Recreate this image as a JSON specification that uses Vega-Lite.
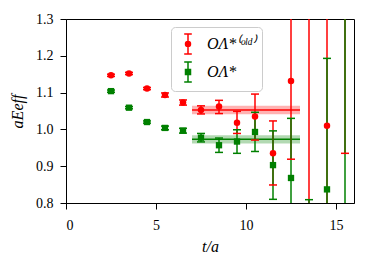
{
  "$schema": "https://vega.github.io/schema/vega-lite/v6.json",
  "width": 288,
  "height": 184,
  "autosize": {"type": "none"},
  "padding": {"left": 66, "top": 19, "right": 19, "bottom": 64},
  "background": "white",
  "config": {
    "view": {"stroke": "black", "strokeWidth": 1},
    "axis": {
      "grid": false,
      "domainColor": "black",
      "domainWidth": 1,
      "tickColor": "black",
      "tickSize": 6,
      "tickWidth": 1,
      "labelOverlap": false,
      "labelFont": "Liberation Serif",
      "labelFontSize": 14,
      "labelColor": "black",
      "titleFont": "Liberation Serif",
      "titleFontSize": 16,
      "titleFontStyle": "italic",
      "titleFontWeight": "normal",
      "titleColor": "black"
    },
    "legend": {
      "title": null,
      "orient": "none",
      "legendX": 105,
      "legendY": 8,
      "padding": 6,
      "strokeColor": "#cccccc",
      "fillColor": "white",
      "cornerRadius": 4,
      "symbolSize": 400,
      "symbolStrokeWidth": 1.5,
      "symbolOpacity": 1,
      "rowPadding": 2,
      "labelOffset": 8,
      "labelFont": "Liberation Serif",
      "labelFontSize": 16,
      "labelFontStyle": "italic",
      "labelColor": "black"
    }
  },
  "datasets": {
    "pts": [
      {"t": 2.5, "y": 1.147, "lo": 1.144, "hi": 1.150, "s": "old"},
      {"t": 3.5, "y": 1.152, "lo": 1.149, "hi": 1.155, "s": "old"},
      {"t": 4.5, "y": 1.111, "lo": 1.108, "hi": 1.114, "s": "old"},
      {"t": 5.5, "y": 1.0935, "lo": 1.088, "hi": 1.099, "s": "old"},
      {"t": 6.5, "y": 1.073, "lo": 1.066, "hi": 1.080, "s": "old"},
      {"t": 7.5, "y": 1.053, "lo": 1.042, "hi": 1.064, "s": "old"},
      {"t": 8.5, "y": 1.062, "lo": 1.043, "hi": 1.079, "s": "old"},
      {"t": 9.5, "y": 1.018, "lo": 0.989, "hi": 1.049, "s": "old"},
      {"t": 10.5, "y": 1.035, "lo": 0.971, "hi": 1.096, "s": "old"},
      {"t": 11.5, "y": 0.935, "lo": 0.849, "hi": 1.023, "s": "old"},
      {"t": 12.5, "y": 1.1315, "lo": 0.919, "hi": 1.344, "s": "old"},
      {"t": 13.5, "y": 1.55, "lo": 0.70, "hi": 2.40, "s": "old"},
      {"t": 14.5, "y": 1.010, "lo": 0.66, "hi": 1.36, "s": "old"},
      {"t": 15.5, "y": 1.50, "lo": 0.935, "hi": 2.065, "s": "old"},
      {"t": 2.5, "y": 1.104, "lo": 1.101, "hi": 1.107, "s": "new"},
      {"t": 3.5, "y": 1.059, "lo": 1.056, "hi": 1.062, "s": "new"},
      {"t": 4.5, "y": 1.020, "lo": 1.017, "hi": 1.023, "s": "new"},
      {"t": 5.5, "y": 1.004, "lo": 0.999, "hi": 1.009, "s": "new"},
      {"t": 6.5, "y": 0.9965, "lo": 0.990, "hi": 1.003, "s": "new"},
      {"t": 7.5, "y": 0.9775, "lo": 0.966, "hi": 0.989, "s": "new"},
      {"t": 8.5, "y": 0.957, "lo": 0.9375, "hi": 0.9765, "s": "new"},
      {"t": 9.5, "y": 0.967, "lo": 0.935, "hi": 0.999, "s": "new"},
      {"t": 10.5, "y": 0.993, "lo": 0.940, "hi": 1.0465, "s": "new"},
      {"t": 11.5, "y": 0.903, "lo": 0.810, "hi": 0.996, "s": "new"},
      {"t": 12.5, "y": 0.868, "lo": 0.706, "hi": 1.030, "s": "new"},
      {"t": 13.5, "y": 0.60, "lo": 0.391, "hi": 0.809, "s": "new"},
      {"t": 14.5, "y": 0.837, "lo": 0.481, "hi": 1.193, "s": "new"},
      {"t": 15.5, "y": 1.45, "lo": 0.70, "hi": 2.20, "s": "new"}
    ],
    "fits": [
      {"t0": 7, "t1": 13, "y": 1.0525, "lo": 1.041, "hi": 1.064, "s": "old"},
      {"t0": 7, "t1": 13, "y": 0.973, "lo": 0.962, "hi": 0.984, "s": "new"}
    ]
  },
  "encoding": {
    "color": {"field": "s", "type": "nominal", "scale": {"domain": ["old", "new"], "range": ["#ff0000", "#008000"]},
      "legend": {
        "labelExpr": "datum.value === 'old' ? 'OΛ*⁽ᵒˡᵈ⁾' : 'OΛ*'",
        "encode": {"symbols": {"update": {
          "stroke": {"scale": "color", "field": "value"},
          "fill": {"scale": "color", "field": "value"},
          "strokeWidth": {"value": 1.5},
          "opacity": {"value": 1},
          "size": {"value": 400}
        }}}
      }
    }
  },
  "layer": [
    {
      "data": {"name": "fits"},
      "mark": {"type": "rect", "opacity": 0.3, "clip": true},
      "encoding": {
        "x": {"field": "t0", "type": "quantitative", "scale": {"domain": [0, 16], "nice": false, "zero": false},
          "axis": {"values": [0, 5, 10, 15], "title": "t/a", "labelPadding": 9, "titleY": 43, "titleBaseline": "middle"}},
        "x2": {"field": "t1"},
        "y": {"field": "lo", "type": "quantitative", "scale": {"domain": [0.8, 1.3], "nice": false, "zero": false},
          "axis": {"tickCount": 6, "labelOverlap": false, "format": ".1f", "title": "aEeff", "labelPadding": 7, "titleX": -49, "titleY": 92, "titleAngle": -90, "titleBaseline": "middle", "titleAlign": "center"}},
        "y2": {"field": "hi"}
      }
    },
    {
      "data": {"name": "fits"},
      "mark": {"type": "rule", "strokeWidth": 1.5, "clip": true},
      "encoding": {
        "x": {"field": "t0", "type": "quantitative"},
        "x2": {"field": "t1"},
        "y": {"field": "y", "type": "quantitative"}
      }
    },
    {
      "data": {"name": "pts"},
      "mark": {"type": "rule", "strokeWidth": 1.5, "clip": true},
      "encoding": {
        "x": {"field": "t", "type": "quantitative"},
        "y": {"field": "lo", "type": "quantitative"},
        "y2": {"field": "hi"}
      }
    },
    {
      "data": {"name": "pts"},
      "mark": {"type": "tick", "orient": "horizontal", "size": 8, "thickness": 1.5, "opacity": 1, "clip": true},
      "encoding": {
        "x": {"field": "t", "type": "quantitative"},
        "y": {"field": "lo", "type": "quantitative"}
      }
    },
    {
      "data": {"name": "pts"},
      "mark": {"type": "tick", "orient": "horizontal", "size": 8, "thickness": 1.5, "opacity": 1, "clip": true},
      "encoding": {
        "x": {"field": "t", "type": "quantitative"},
        "y": {"field": "hi", "type": "quantitative"}
      }
    },
    {
      "data": {"name": "pts"},
      "transform": [{"filter": "datum.s === 'old'"}],
      "mark": {"type": "point", "shape": "circle", "filled": true, "size": 42, "opacity": 1, "clip": true},
      "encoding": {
        "x": {"field": "t", "type": "quantitative"},
        "y": {"field": "y", "type": "quantitative"}
      }
    },
    {
      "data": {"name": "pts"},
      "transform": [{"filter": "datum.s === 'new'"}],
      "mark": {"type": "point", "shape": "square", "filled": true, "size": 40, "opacity": 1, "clip": true},
      "encoding": {
        "x": {"field": "t", "type": "quantitative"},
        "y": {"field": "y", "type": "quantitative"}
      }
    },
    {
      "data": {"name": "fits"},
      "mark": {"type": "point", "filled": true, "opacity": 0, "clip": true},
      "encoding": {
        "x": {"field": "t0", "type": "quantitative"},
        "y": {"field": "y", "type": "quantitative"},
        "shape": {"field": "s", "type": "nominal",
          "scale": {"domain": ["old", "new"], "range": [
            "M0,-1L0,1M-0.38,-1L0.38,-1M-0.38,1L0.38,1M-0.25,0A0.25,0.25,0,1,0,0.25,0A0.25,0.25,0,1,0,-0.25,0Z",
            "M0,-1L0,1M-0.38,-1L0.38,-1M-0.38,1L0.38,1M-0.25,-0.25L0.25,-0.25L0.25,0.25L-0.25,0.25Z"
          ]},
          "legend": {
            "labelExpr": "datum.value === 'old' ? 'OΛ*⁽ᵒˡᵈ⁾' : 'OΛ*'",
            "encode": {"symbols": {"update": {
              "stroke": {"scale": "color", "field": "value"},
              "fill": {"scale": "color", "field": "value"},
              "strokeWidth": {"value": 1.5},
              "opacity": {"value": 1},
              "size": {"value": 400}
            }}}
          }
        }
      }
    }
  ]
}
